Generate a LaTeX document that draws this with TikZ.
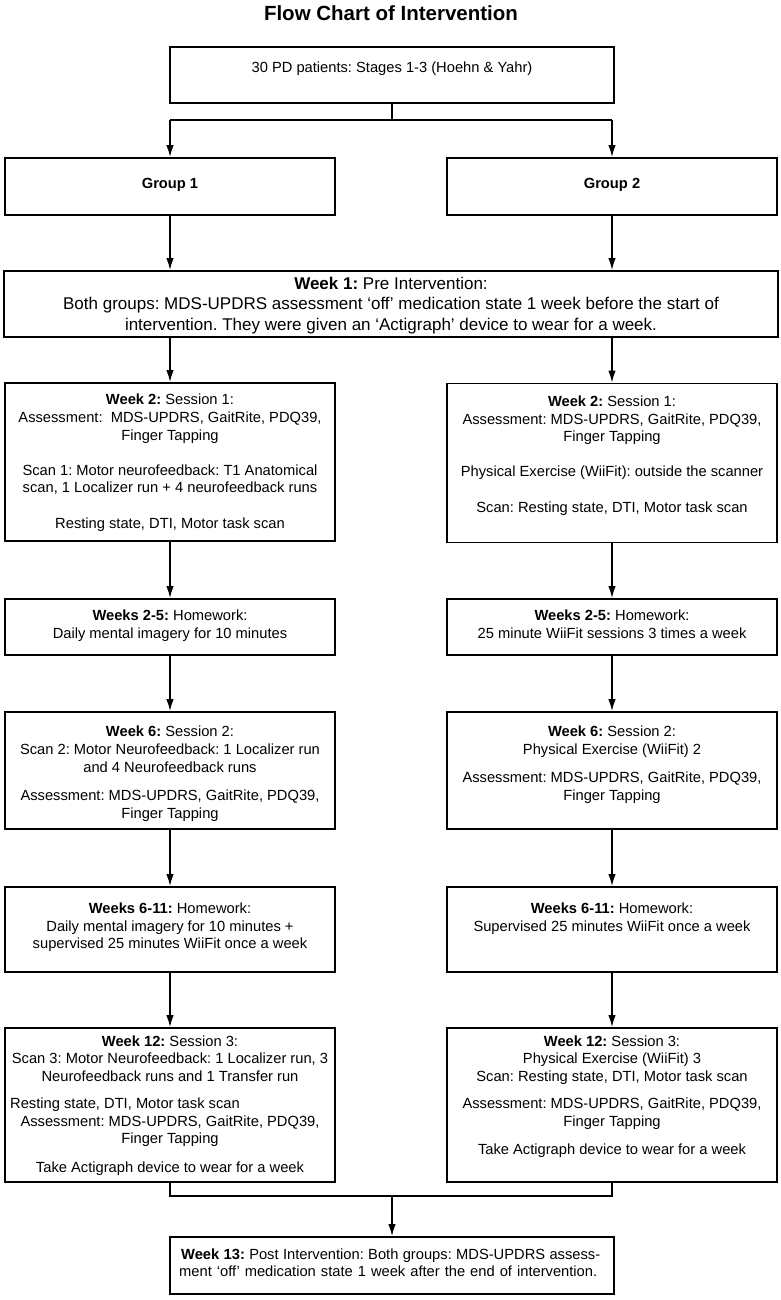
\documentclass[tikz,border=0pt]{standalone}
\usepackage{fontspec}
\setmainfont{Liberation Sans}
\usepackage{tikz}
\usetikzlibrary{shapes,arrows.meta}
\makeatletter
\newcommand\boxtext{\@setfontsize\boxtext{14.7}{17.6}}
\newcommand\weektext{\@setfontsize\weektext{17}{20.5}}
\newcommand\titletext{\@setfontsize\titletext{20.5}{24}}
\makeatother
\frenchspacing

\tikzset{
  box/.style={draw, line width=1.8pt, inner sep=0pt},
  col/.style={box, minimum width=330pt},
  txt/.style={anchor=base, inner sep=0pt, font=\boxtext},
  flow/.style={line width=1.5pt, -{Latex[length=12pt,width=7.5pt]}},
  link/.style={line width=1.5pt},
}

\begin{document}
\begin{tikzpicture}[x=1pt,y=-1pt]
\useasboundingbox (0,0) rectangle (781,1300);

% title
\node[anchor=base, inner sep=0pt, font=\titletext\bfseries] (title) at (391,21) {Flow Chart of Intervention};

% patients
\node[box, minimum width=444pt, minimum height=56pt] (pd) at (392,75) {};
\node[txt] (pdtxt) at (392,73) {30 PD patients: Stages 1-3 (Hoehn \& Yahr)};

% groups
\node[col, minimum height=57pt] (grpL) at (170,186.5) {};
\node[txt, font=\boxtext\bfseries] (grpLtxt) at (170,189) {Group 1};
\node[col, minimum height=57pt] (grpR) at (612,186.5) {};
\node[txt, font=\boxtext\bfseries] (grpRtxt) at (612,189) {Group 2};

% week 1
\node[box, minimum width=774pt, minimum height=66pt] (pre) at (391,304) {};
\node[txt, font=\weektext] (prea) at (391,289) {\textbf{Week 1:} Pre Intervention:};
\node[txt, font=\weektext] (preb) at (391,309.5) {Both groups: MDS-UPDRS assessment ‘off’ medication state 1 week before the start of};
\node[txt, font=\weektext] (prec) at (391,330) {intervention. They were given an ‘Actigraph’ device to wear for a week.};

% week 2, group 1
\node[col, minimum height=158pt] (s1L) at (170,462) {};
\node[txt] (s1La) at (170,404) {\textbf{Week 2:} Session 1:};
\node[txt] (s1Lb) at (170,422) {Assessment:\ \ MDS-UPDRS, GaitRite, PDQ39,};
\node[txt] (s1Lc) at (170,440) {Finger Tapping};
\node[txt] (s1Ld) at (170,475) {Scan 1: Motor neurofeedback: T1 Anatomical};
\node[txt] (s1Le) at (170,492) {scan, 1 Localizer run + 4 neurofeedback runs};
\node[txt] (s1Lf) at (170,528) {Resting state, DTI, Motor task scan};
% week 2, group 2
\node[col, minimum height=159pt] (s1R) at (612,463) {};
\node[txt] (s1Ra) at (612,406) {\textbf{Week 2:} Session 1:};
\node[txt] (s1Rb) at (612,424) {Assessment: MDS-UPDRS, GaitRite, PDQ39,};
\node[txt] (s1Rc) at (612,441) {Finger Tapping};
\node[txt] (s1Rd) at (612,476) {Physical Exercise (WiiFit): outside the scanner};
\node[txt] (s1Re) at (612,512) {Scan: Resting state, DTI, Motor task scan};

% weeks 2-5
\node[col, minimum height=56pt] (hw1L) at (170,627) {};
\node[txt] (hw1La) at (170,620) {\textbf{Weeks 2-5:} Homework:};
\node[txt] (hw1Lb) at (170,638) {Daily mental imagery for 10 minutes};
\node[col, minimum height=56pt] (hw1R) at (612,627) {};
\node[txt] (hw1Ra) at (612,620) {\textbf{Weeks 2-5:} Homework:};
\node[txt] (hw1Rb) at (612,638) {25 minute WiiFit sessions 3 times a week};

% week 6
\node[col, minimum height=117pt] (s2L) at (170,770.5) {};
\node[txt] (s2La) at (170,736) {\textbf{Week 6:} Session 2:};
\node[txt] (s2Lb) at (170,754) {Scan 2: Motor Neurofeedback: 1 Localizer run};
\node[txt] (s2Lc) at (170,772) {and 4 Neurofeedback runs};
\node[txt] (s2Ld) at (170,800) {Assessment: MDS-UPDRS, GaitRite, PDQ39,};
\node[txt] (s2Le) at (170,818) {Finger Tapping};
\node[col, minimum height=117pt] (s2R) at (612,770.5) {};
\node[txt] (s2Ra) at (612,736) {\textbf{Week 6:} Session 2:};
\node[txt] (s2Rb) at (612,754) {Physical Exercise (WiiFit) 2};
\node[txt] (s2Rc) at (612,782) {Assessment: MDS-UPDRS, GaitRite, PDQ39,};
\node[txt] (s2Rd) at (612,800) {Finger Tapping};

% weeks 6-11
\node[col, minimum height=85pt] (hw2L) at (170,929.5) {};
\node[txt] (hw2La) at (170,913) {\textbf{Weeks 6-11:} Homework:};
\node[txt] (hw2Lb) at (170,931) {Daily mental imagery for 10 minutes +};
\node[txt] (hw2Lc) at (170,948) {supervised 25 minutes WiiFit once a week};
\node[col, minimum height=85pt] (hw2R) at (612,929.5) {};
\node[txt] (hw2Ra) at (612,913) {\textbf{Weeks 6-11:} Homework:};
\node[txt] (hw2Rb) at (612,931) {Supervised 25 minutes WiiFit once a week};

% week 12
\node[col, minimum height=154pt] (s3L) at (170,1105) {};
\node[txt] (s3La) at (170,1046) {\textbf{Week 12:} Session 3:};
\node[txt] (s3Lb) at (170,1063.5) {Scan 3: Motor Neurofeedback: 1 Localizer run, 3};
\node[txt] (s3Lc) at (170,1081) {Neurofeedback runs and 1 Transfer run};
\node[txt, anchor=base west] (s3Ld) at (10,1108) {Resting state, DTI, Motor task scan};
\node[txt] (s3Le) at (170,1126) {Assessment: MDS-UPDRS, GaitRite, PDQ39,};
\node[txt] (s3Lf) at (170,1143.5) {Finger Tapping};
\node[txt] (s3Lg) at (170,1172) {Take Actigraph device to wear for a week};
\node[col, minimum height=154pt] (s3R) at (612,1105) {};
\node[txt] (s3Ra) at (612,1046) {\textbf{Week 12:} Session 3:};
\node[txt] (s3Rb) at (612,1063.5) {Physical Exercise (WiiFit) 3};
\node[txt] (s3Rc) at (612,1081) {Scan: Resting state, DTI, Motor task scan};
\node[txt] (s3Rd) at (612,1108) {Assessment: MDS-UPDRS, GaitRite, PDQ39,};
\node[txt] (s3Re) at (612,1126) {Finger Tapping};
\node[txt] (s3Rf) at (612,1154) {Take Actigraph device to wear for a week};

% week 13
\node[box, minimum width=444pt, minimum height=57pt] (post) at (392,1265.5) {};
\node[txt, anchor=base west] (posta) at (181,1259.5) {\makebox[419pt][s]{\textbf{Week 13:} Post Intervention: Both groups: MDS-UPDRS assess-}};
\node[txt, anchor=base west] (postb) at (179,1276) {\makebox[418pt][s]{ment ‘off’ medication state 1 week after the end of intervention.}};

% connectors
\coordinate (split) at (392,120);
\coordinate (merge) at (392,1196);
\draw[link] (pd.south) -- (split);
\draw[link] (split -| grpL.north) -- (split -| grpR.north);
\draw[flow] (split -| grpL.north) -- (grpL.north);
\draw[flow] (split -| grpR.north) -- (grpR.north);
\foreach \c in {L,R} {
  \draw[flow] (grp\c.south) -- (grp\c.south |- pre.north);
  \draw[flow] (pre.south -| s1\c.north) -- (s1\c.north);
  \draw[flow] (s1\c.south) -- (hw1\c.north);
  \draw[flow] (hw1\c.south) -- (s2\c.north);
  \draw[flow] (s2\c.south) -- (hw2\c.north);
  \draw[flow] (hw2\c.south) -- (s3\c.north);
}
\draw[link] (s3L.south) -- (s3L.south |- merge) -- (s3R.south |- merge) -- (s3R.south);
\draw[flow] (merge) -- (post.north);
\end{tikzpicture}
\end{document}
